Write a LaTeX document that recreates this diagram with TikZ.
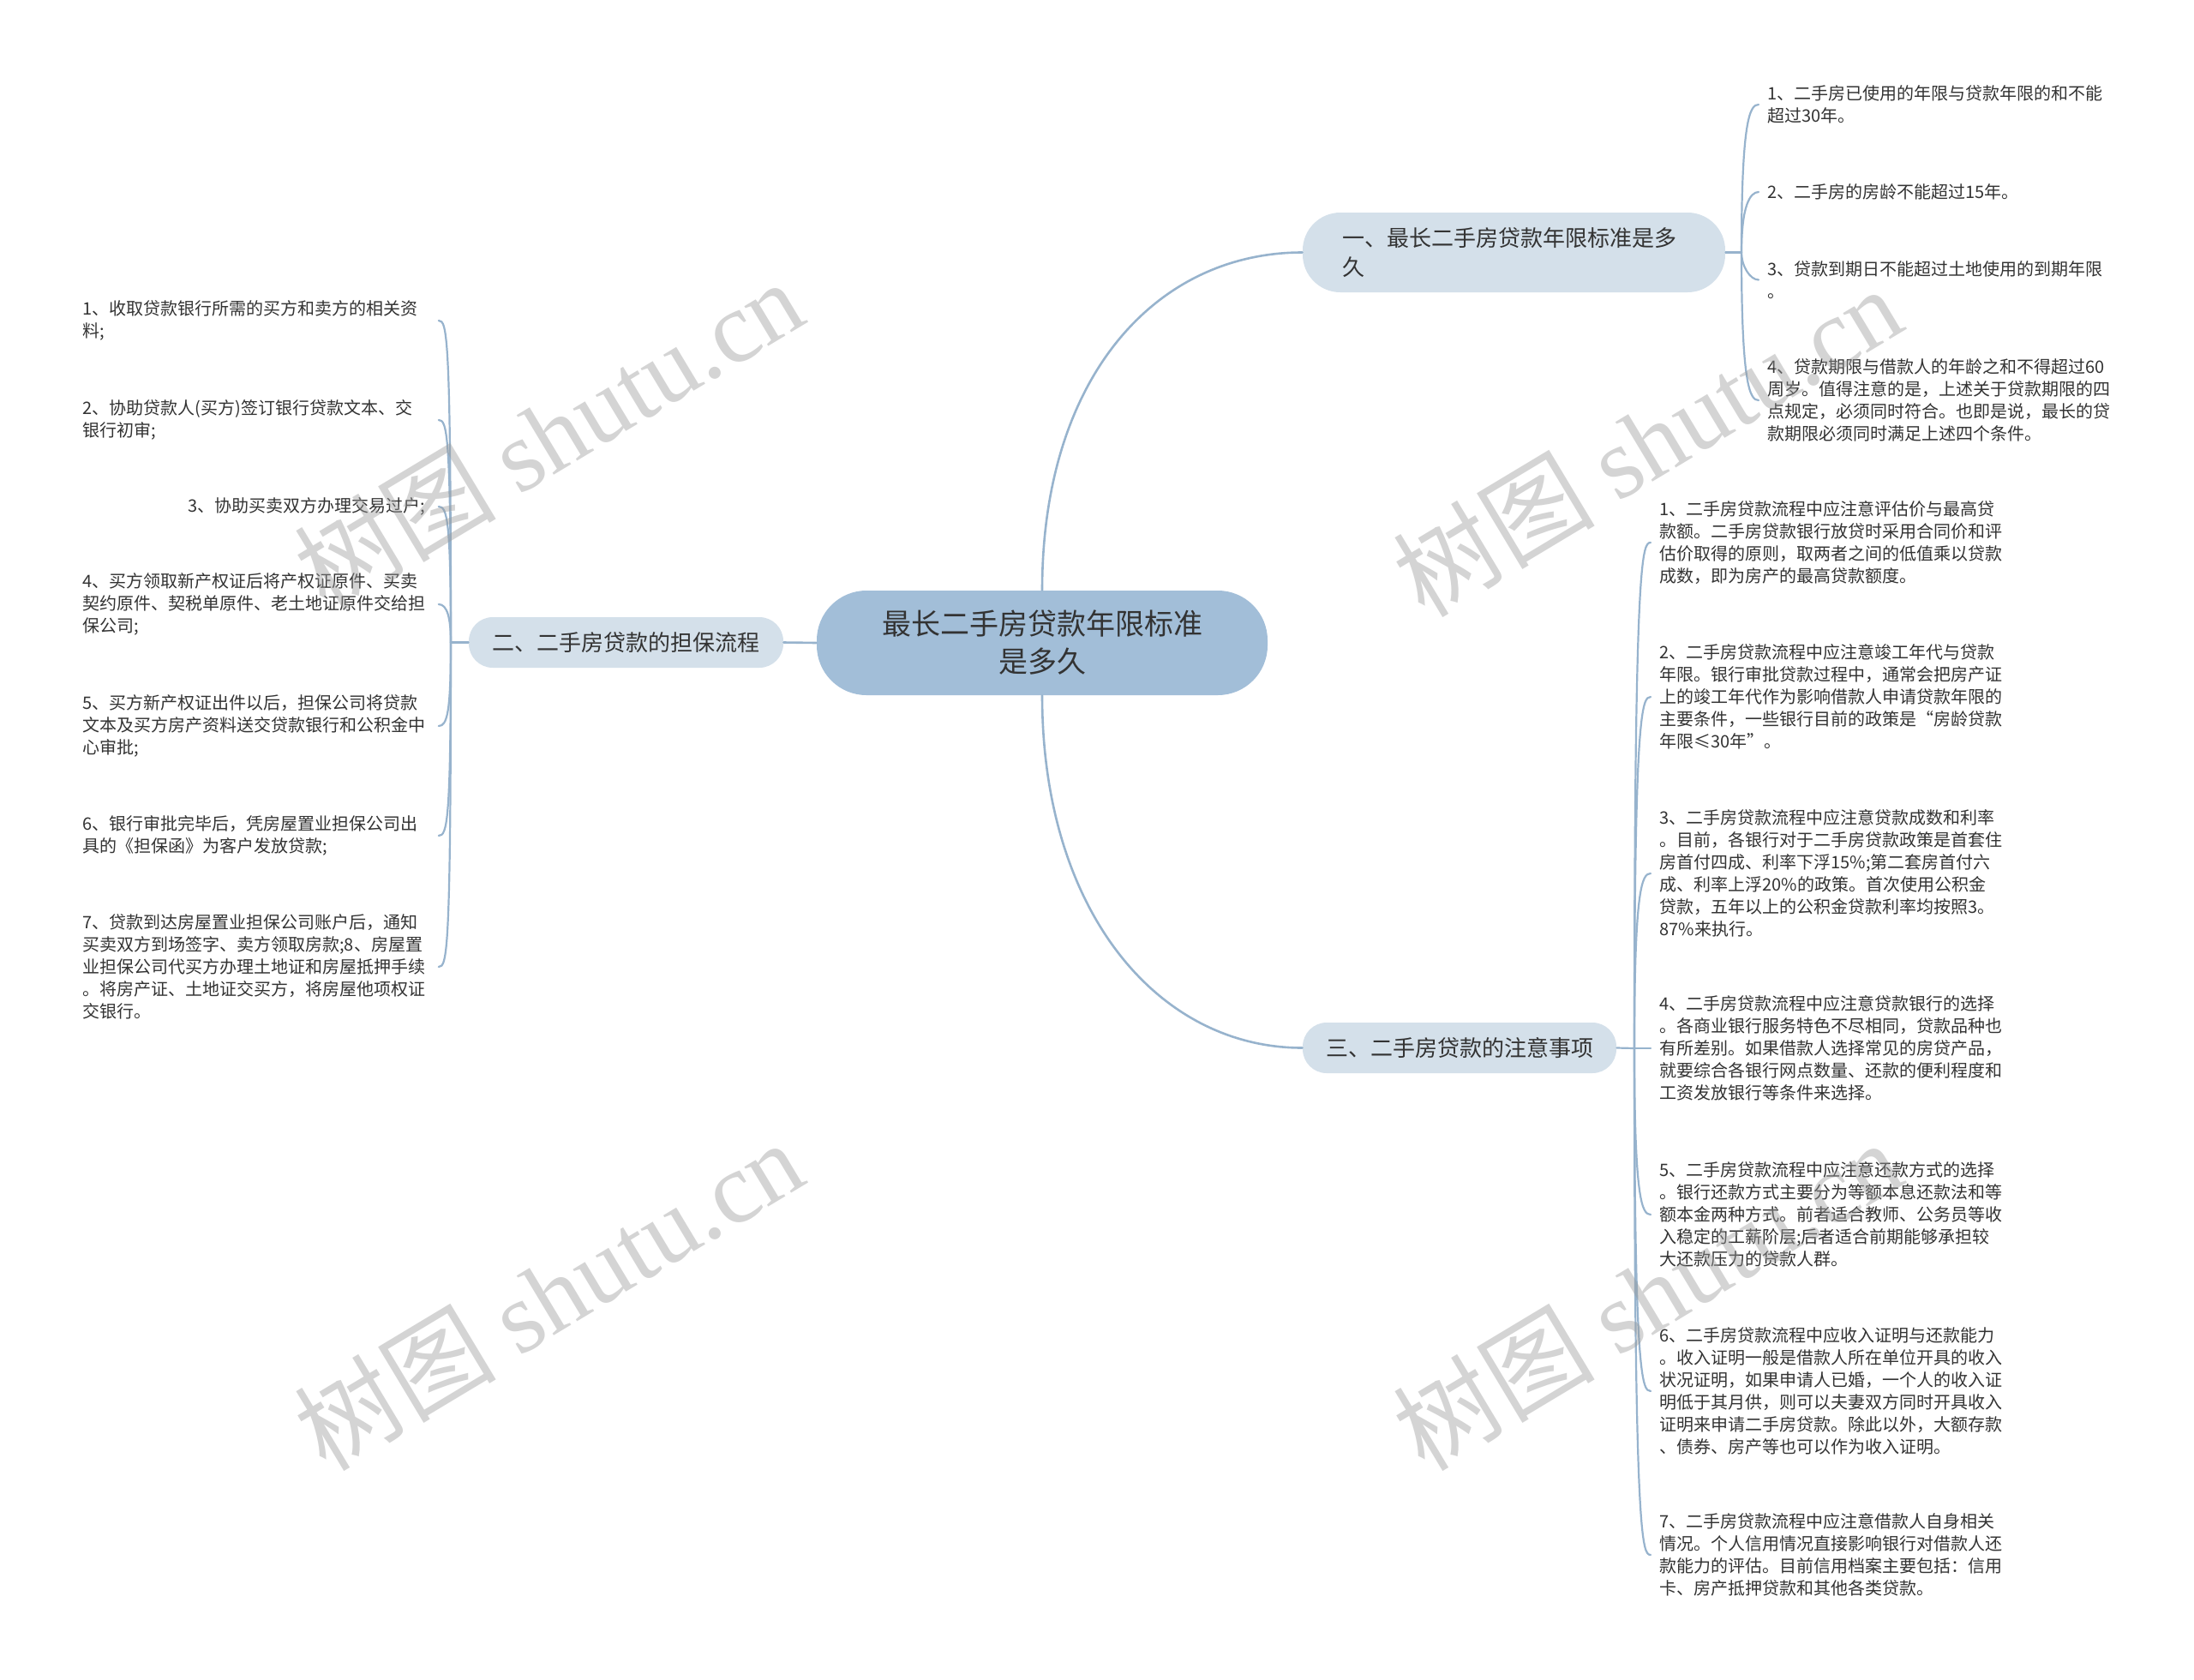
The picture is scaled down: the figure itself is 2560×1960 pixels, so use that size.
\documentclass[tikz,border=0pt]{standalone}
\usepackage{fontspec}
\setmainfont{Noto Sans CJK SC}
\newfontfamily\wmserif{Liberation Serif}
\usetikzlibrary{calc}
\definecolor{lineC}{HTML}{97B3CD}
\definecolor{rootC}{HTML}{A2BED8}
\definecolor{brC}{HTML}{D4E0EA}
\definecolor{txtC}{HTML}{333333}
\newcommand\mmleafR[2]{\draw[leafconn] (#1) .. controls ($(#1 |- #2.west)!8pt!(#1)$) and ($(#2.west)+(-10,0)$) .. (#2.west);}
\newcommand\mmleafL[2]{\draw[leafconn] (#1) .. controls ($(#1 |- #2.east)!8pt!(#1)$) and ($(#2.east)+(10,0)$) .. (#2.east);}
\begin{document}
\begin{tikzpicture}[x=0.5pt,y=-0.5pt,
  conn/.style={draw=lineC, line width=1.3pt, line cap=round},
  leafconn/.style={draw=lineC, line width=1.1pt, line cap=round},
  rootbox/.style={fill=rootC, rounded corners=29pt, minimum width=263pt, minimum height=61pt,
    align=center, font=\fontsize{17}{22}\selectfont, text=txtC, inner sep=0pt},
  branchbox/.style={fill=brC, rounded corners=14pt, inner ysep=0pt, align=center,
    font=\fontsize{13}{17}\selectfont, text=txtC},
  leafR/.style={anchor=west, align=left, text width=201pt, inner xsep=5pt, inner ysep=0pt,
    font=\fontsize{10}{13}\selectfont, text=txtC},
  leafL/.style={anchor=west, align=left, text width=200pt, inner xsep=7.5pt, inner ysep=0pt,
    font=\fontsize{10}{13}\selectfont, text=txtC},
  wm/.style={rotate=31, inner sep=0pt, text=black!40, text opacity=0.42,
    font=\fontsize{59}{59}\selectfont}
]
\fill[white] (0,0) rectangle (2560,1960);
\useasboundingbox (0,0) rectangle (2560,1960);

% central and main branches
\node[rootbox] (root) at (1216,750) {最长二手房贷款年限标准\\是多久};
\node[branchbox, minimum width=246.5pt, minimum height=46.5pt, text width=200pt,
      inner xsep=23.25pt, align=left, rounded corners=22pt] (b1) at (1766.5,294.5)
      {一、最长二手房贷款年限标准是多\\久};
\node[branchbox, minimum width=183.5pt, minimum height=29.5pt] (b2) at (730.5,749.5)
      {二、二手房贷款的担保流程};
\node[branchbox, minimum width=183pt, minimum height=29.5pt] (b3) at (1703,1222.5)
      {三、二手房贷款的注意事项};

% branch 1 leaves
\node[leafR] (b1l1) at (2052,122) {1、二手房已使用的年限与贷款年限的和不能\\超过30年。};
\node[leafR] (b1l2) at (2052,224) {2、二手房的房龄不能超过15年。};
\node[leafR] (b1l3) at (2052,326.5) {3、贷款到期日不能超过土地使用的到期年限\\。};
\node[leafR] (b1l4) at (2052,467) {4、贷款期限与借款人的年龄之和不得超过60\\周岁。值得注意的是，上述关于贷款期限的四\\点规定，必须同时符合。也即是说，最长的贷\\款期限必须同时满足上述四个条件。};

% branch 2 leaves
\node[leafL] (b2l1) at (81,374) {1、收取贷款银行所需的买方和卖方的相关资\\料;};
\node[leafL] (b2l2) at (81,490) {2、协助贷款人(买方)签订银行贷款文本、交\\银行初审;};
\node[leafL, align=right] (b2l3) at (81,591) {3、协助买卖双方办理交易过户;};
\node[leafL] (b2l4) at (81,705) {4、买方领取新产权证后将产权证原件、买卖\\契约原件、契税单原件、老土地证原件交给担\\保公司;};
\node[leafL] (b2l5) at (81,847) {5、买方新产权证出件以后，担保公司将贷款\\文本及买方房产资料送交贷款银行和公积金中\\心审批;};
\node[leafL] (b2l6) at (81,975) {6、银行审批完毕后，凭房屋置业担保公司出\\具的《担保函》为客户发放贷款;};
\node[leafL] (b2l7) at (81,1128) {7、贷款到达房屋置业担保公司账户后，通知\\买卖双方到场签字、卖方领取房款;8、房屋置\\业担保公司代买方办理土地证和房屋抵押手续\\。将房产证、土地证交买方，将房屋他项权证\\交银行。};

% branch 3 leaves
\node[leafR] (b3l1) at (1926,633) {1、二手房贷款流程中应注意评估价与最高贷\\款额。二手房贷款银行放贷时采用合同价和评\\估价取得的原则，取两者之间的低值乘以贷款\\成数，即为房产的最高贷款额度。};
\node[leafR] (b3l2) at (1926,813) {2、二手房贷款流程中应注意竣工年代与贷款\\年限。银行审批贷款过程中，通常会把房产证\\上的竣工年代作为影响借款人申请贷款年限的\\主要条件，一些银行目前的政策是“房龄贷款\\年限≤30年”。};
\node[leafR] (b3l3) at (1926,1019) {3、二手房贷款流程中应注意贷款成数和利率\\。目前，各银行对于二手房贷款政策是首套住\\房首付四成、利率下浮15\%;第二套房首付六\\成、利率上浮20\%的政策。首次使用公积金\\贷款，五年以上的公积金贷款利率均按照3。\\87\%来执行。};
\node[leafR] (b3l4) at (1926,1223) {4、二手房贷款流程中应注意贷款银行的选择\\。各商业银行服务特色不尽相同，贷款品种也\\有所差别。如果借款人选择常见的房贷产品，\\就要综合各银行网点数量、还款的便利程度和\\工资发放银行等条件来选择。};
\node[leafR] (b3l5) at (1926,1417) {5、二手房贷款流程中应注意还款方式的选择\\。银行还款方式主要分为等额本息还款法和等\\额本金两种方式。前者适合教师、公务员等收\\入稳定的工薪阶层;后者适合前期能够承担较\\大还款压力的贷款人群。};
\node[leafR] (b3l6) at (1926,1623) {6、二手房贷款流程中应收入证明与还款能力\\。收入证明一般是借款人所在单位开具的收入\\状况证明，如果申请人已婚，一个人的收入证\\明低于其月供，则可以夫妻双方同时开具收入\\证明来申请二手房贷款。除此以外，大额存款\\、债券、房产等也可以作为收入证明。};
\node[leafR] (b3l7) at (1926,1814) {7、二手房贷款流程中应注意借款人自身相关\\情况。个人信用情况直接影响银行对借款人还\\款能力的评估。目前信用档案主要包括：信用\\卡、房产抵押贷款和其他各类贷款。};

% junctions
\coordinate (j1) at (2032,294.5);
\coordinate (j2) at (526,749.5);
\coordinate (j3) at (1907,1223);

% main connectors
\draw[conn] (root.north) .. controls +(0,-250) and +(-170,0) .. (b1.west);
\draw[conn] (root.south) .. controls +(0,250) and +(-170,0) .. (b3.west);
\draw[conn] (root.west) -- (b2.east);

% branch 1 connectors
\draw[leafconn] (b1.east) -- (j1);
\mmleafR{j1}{b1l1}
\mmleafR{j1}{b1l2}
\mmleafR{j1}{b1l3}
\mmleafR{j1}{b1l4}

% branch 2 connectors
\draw[leafconn] (b2.west) -- (j2);
\mmleafL{j2}{b2l1}
\mmleafL{j2}{b2l2}
\mmleafL{j2}{b2l3}
\mmleafL{j2}{b2l4}
\mmleafL{j2}{b2l5}
\mmleafL{j2}{b2l6}
\mmleafL{j2}{b2l7}

% branch 3 connectors
\draw[leafconn] (b3.east) -- (j3);
\mmleafR{j3}{b3l1}
\mmleafR{j3}{b3l2}
\mmleafR{j3}{b3l3}
\draw[leafconn] (j3) -- (b3l4.west);
\mmleafR{j3}{b3l5}
\mmleafR{j3}{b3l6}
\mmleafR{j3}{b3l7}

% watermarks
\node[wm] (wm1) at (640,506) {树图 {\wmserif shutu.cn}};
\node[wm] (wm2) at (1922,514) {树图 {\wmserif shutu.cn}};
\node[wm] (wm3) at (640,1510) {树图 {\wmserif shutu.cn}};
\node[wm] (wm4) at (1922,1510) {树图 {\wmserif shutu.cn}};
\end{tikzpicture}
\end{document}
